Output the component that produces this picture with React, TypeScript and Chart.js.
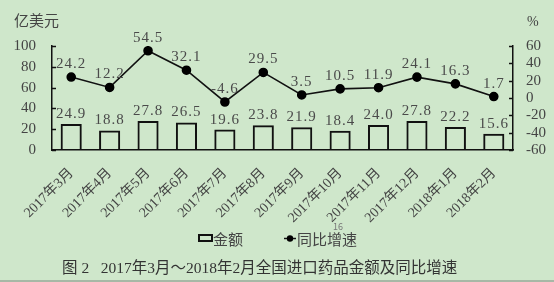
import React, { useEffect, useRef } from "react";
import { Chart, registerables } from "chart.js";

Chart.register(...registerables);

const categories = [
  "2017年3月", "2017年4月", "2017年5月", "2017年6月", "2017年7月", "2017年8月",
  "2017年9月", "2017年10月", "2017年11月", "2017年12月", "2018年1月", "2018年2月",
];
const amounts = [24.9, 18.8, 27.8, 26.5, 19.6, 23.8, 21.9, 18.4, 24.0, 27.8, 22.2, 15.6];
const growth = [24.2, 12.2, 54.5, 32.1, -4.6, 29.5, 3.5, 10.5, 11.9, 24.1, 16.3, 1.7];
const leftTicks = [0, 20, 40, 60, 80, 100];
const rightTicks = [-60, -40, -20, 0, 20, 40, 60];

const BG = "rgb(207,231,203)";
const SERIF = "'Liberation Serif', 'Noto Sans CJK SC', serif";
const CJK = "'Noto Sans CJK SC', 'Liberation Serif', sans-serif";

const extras = {
  id: "extras",
  beforeDraw(chart: any) {
    const { ctx, width, height } = chart;
    ctx.save();
    ctx.fillStyle = BG;
    ctx.fillRect(0, 0, width, height);
    ctx.restore();
  },
  afterDatasetsDraw(chart: any) {
    const { ctx, scales } = chart;
    const y = scales.y;
    const y1 = scales.y1;
    const x = scales.x;
    ctx.save();
    // inward tick marks
    ctx.strokeStyle = "#111";
    ctx.lineWidth = 1.5;
    leftTicks.forEach((v) => {
      const py = Math.round(y.getPixelForValue(v)) + 0.5;
      ctx.beginPath();
      ctx.moveTo(y.right, py);
      ctx.lineTo(y.right + 4, py);
      ctx.stroke();
    });
    rightTicks.forEach((v) => {
      const py = Math.round(y1.getPixelForValue(v)) + 0.5;
      ctx.beginPath();
      ctx.moveTo(y1.left, py);
      ctx.lineTo(y1.left - 4, py);
      ctx.stroke();
    });

    // data labels
    ctx.fillStyle = "#4a4a4a";
    ctx.font = `15px ${SERIF}`;
    (ctx as any).letterSpacing = "1px";
    ctx.textAlign = "center";
    ctx.textBaseline = "alphabetic";
    amounts.forEach((v, i) => {
      const px = x.getPixelForValue(i);
      const py = y.getPixelForValue(v);
      ctx.fillText(v.toFixed(1), px, py - 6);
    });
    growth.forEach((v, i) => {
      const px = x.getPixelForValue(i);
      const py = y1.getPixelForValue(v);
      ctx.fillText(v.toFixed(1), px, py - 9);
    });
    (ctx as any).letterSpacing = "0px";

    // axis titles
    ctx.fillStyle = "#444";
    ctx.font = `15px ${CJK}`;
    ctx.textAlign = "left";
    ctx.textBaseline = "middle";
    ctx.fillText("亿美元", 14, 20);
    ctx.font = `14px ${SERIF}`;
    ctx.fillText("%", 527, 22);

    // legend
    ctx.strokeStyle = "#111";
    ctx.lineWidth = 2;
    ctx.strokeRect(199, 235, 13, 6);
    ctx.fillStyle = "#444";
    ctx.font = `15px ${CJK}`;
    ctx.textBaseline = "middle";
    ctx.fillText("金额", 213, 239);
    ctx.lineWidth = 1.5;
    ctx.beginPath();
    ctx.moveTo(284, 238.5);
    ctx.lineTo(296, 238.5);
    ctx.stroke();
    ctx.fillStyle = "#000";
    ctx.beginPath();
    ctx.arc(290, 238.5, 3.2, 0, Math.PI * 2);
    ctx.fill();
    ctx.fillStyle = "#444";
    ctx.fillText("同比增速", 297, 239);

    // page number
    ctx.fillStyle = "#777";
    ctx.font = `9px ${CJK}`;
    ctx.textAlign = "center";
    ctx.fillText("16", 338, 227);

    // caption
    ctx.fillStyle = "#333";
    ctx.font = `15.5px ${SERIF}`;
    ctx.textAlign = "left";
    ctx.fillText("图 2   2017年3月～2018年2月全国进口药品金额及同比增速", 62, 269);

    // bottom rule
    ctx.strokeStyle = "#9aa89a";
    ctx.lineWidth = 1.5;
    ctx.beginPath();
    ctx.moveTo(0, 281);
    ctx.lineTo(554, 281);
    ctx.stroke();
    ctx.restore();
  },
};

export default function App() {
  const ref = useRef<HTMLCanvasElement>(null);
  useEffect(() => {
    if (!ref.current) return;
    const chart = new Chart(ref.current, {
      type: "bar",
      data: {
        labels: categories,
        datasets: [
          {
            type: "line",
            label: "同比增速",
            data: growth,
            yAxisID: "y1",
            borderColor: "#111",
            borderWidth: 1.6,
            pointRadius: 4,
            pointBackgroundColor: "#000",
            pointBorderColor: "#000",
            tension: 0,
            order: 0,
          } as any,
          {
            type: "bar",
            label: "金额",
            data: amounts,
            yAxisID: "y",
            backgroundColor: "rgba(0,0,0,0)",
            borderColor: "#111",
            borderWidth: 2,
            categoryPercentage: 1,
            barPercentage: 0.55,
            order: 1,
          } as any,
        ],
      },
      options: {
        responsive: false,
        animation: false,
        layout: { padding: { left: 0, right: 0, top: 46, bottom: 0 } },
        plugins: { legend: { display: false }, tooltip: { enabled: false } },
        scales: {
          x: {
            offset: true,
            grid: { display: false },
            border: { display: true, color: "#111", width: 1.5 },
            ticks: {
              color: "#444",
              font: { size: 14, family: SERIF },
              maxRotation: 45,
              minRotation: 45,
              padding: 7,
              autoSkip: false,
            },
            afterFit: (s: any) => {
              s.height = 132;
            },
          },
          y: {
            position: "left",
            min: 0,
            max: 100,
            grid: { display: false },
            border: { display: true, color: "#111", width: 1.5 },
            ticks: {
              stepSize: 20,
              autoSkip: false,
              color: "#444",
              font: { size: 15, family: SERIF },
              padding: 8,
            },
            afterFit: (s: any) => {
              s.width = 52;
            },
          },
          y1: {
            position: "right",
            min: -60,
            max: 60,
            grid: { display: false },
            border: { display: true, color: "#111", width: 1.5 },
            ticks: {
              stepSize: 20,
              autoSkip: false,
              color: "#444",
              font: { size: 15, family: SERIF },
              padding: 5,
            },
            afterFit: (s: any) => {
              s.width = 41;
            },
          },
        },
      },
      plugins: [extras],
    });
    return () => chart.destroy();
  }, []);
  return (
    <div style={{ position: "absolute", left: 0, top: 0, width: 554, height: 282, background: BG }}>
      <canvas ref={ref} width={554} height={282} style={{ display: "block" }} />
    </div>
  );
}
